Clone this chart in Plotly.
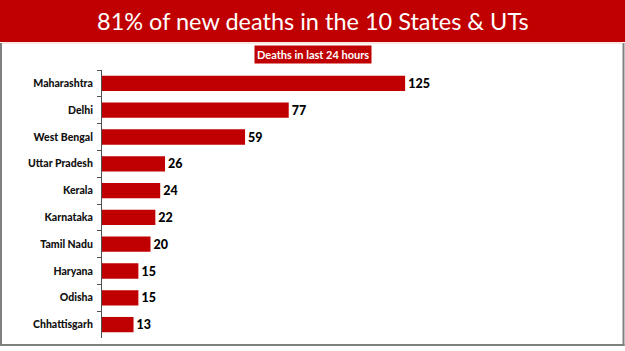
import plotly.graph_objects as go

states = ["Maharashtra", "Delhi", "West Bengal", "Uttar Pradesh", "Kerala",
          "Karnataka", "Tamil Nadu", "Haryana", "Odisha", "Chhattisgarh"]
deaths = [125, 77, 59, 26, 24, 22, 20, 15, 15, 13]

title_text = "81% of new deaths in the 10 States & UTs"
subtitle_text = "Deaths in last 24 hours"

RED = "#C00000"
W, H = 625, 351
L, R, T, B = 102, 38, 70, 13
PW, PH = W - L - R, H - T - B

def px(x):
    return (x - L) / PW

def py(y):
    return (H - B - y) / PH

fig = go.Figure(go.Bar(
    x=deaths, y=states, orientation="h",
    marker=dict(color=RED, line=dict(width=0)),
    text=deaths, textposition="outside", cliponaxis=False, constraintext="none",
    textfont=dict(family="Lato", size=12.5, color="#000000", weight=900),
    width=0.57,
))

shapes = [
    dict(type="rect", xref="paper", yref="paper", x0=px(0), x1=px(W),
         y0=py(42), y1=py(0), fillcolor=RED, line=dict(width=0), layer="below"),
    dict(type="line", xref="paper", yref="paper", x0=px(1), x1=px(1),
         y0=py(43), y1=py(346), line=dict(color="#808080", width=2)),
    dict(type="line", xref="paper", yref="paper", x0=px(623.5), x1=px(623.5),
         y0=py(43), y1=py(346), line=dict(color="#808080", width=2)),
    dict(type="line", xref="paper", yref="paper", x0=px(0), x1=px(624.5),
         y0=py(345), y1=py(345), line=dict(color="#808080", width=2)),
    dict(type="line", xref="paper", yref="paper", x0=px(2), x1=px(622),
         y0=py(43), y1=py(43), line=dict(color="#f4d0c8", width=1)),
]

annotations = [
    dict(text=title_text, xref="paper", yref="paper", x=px(313), y=py(21),
         xanchor="center", yanchor="middle", showarrow=False,
         font=dict(family="Lato", size=23.5, color="white")),
    dict(text=subtitle_text, xref="paper", yref="paper", x=px(313), y=py(55),
         xanchor="center", yanchor="middle", showarrow=False,
         bgcolor=RED, borderpad=2,
         font=dict(family="Lato", size=11, color="white", weight="bold")),
]

fig.update_layout(
    width=W, height=H,
    margin=dict(l=L, r=R, t=T, b=B),
    paper_bgcolor="white", plot_bgcolor="white",
    showlegend=False,
    shapes=shapes, annotations=annotations,
    xaxis=dict(visible=False, range=[0, 200], fixedrange=True),
    yaxis=dict(autorange="reversed", showline=True, linecolor="#505050", linewidth=1,
               ticks="outside", ticklen=4, tickcolor="#505050", tickson="boundaries",
               showgrid=False, ticklabelstandoff=6,
               tickfont=dict(family="Lato", size=10.5, color="#111111", weight=900)),
    bargap=0.43,
)

fig.write_html("out.html")
